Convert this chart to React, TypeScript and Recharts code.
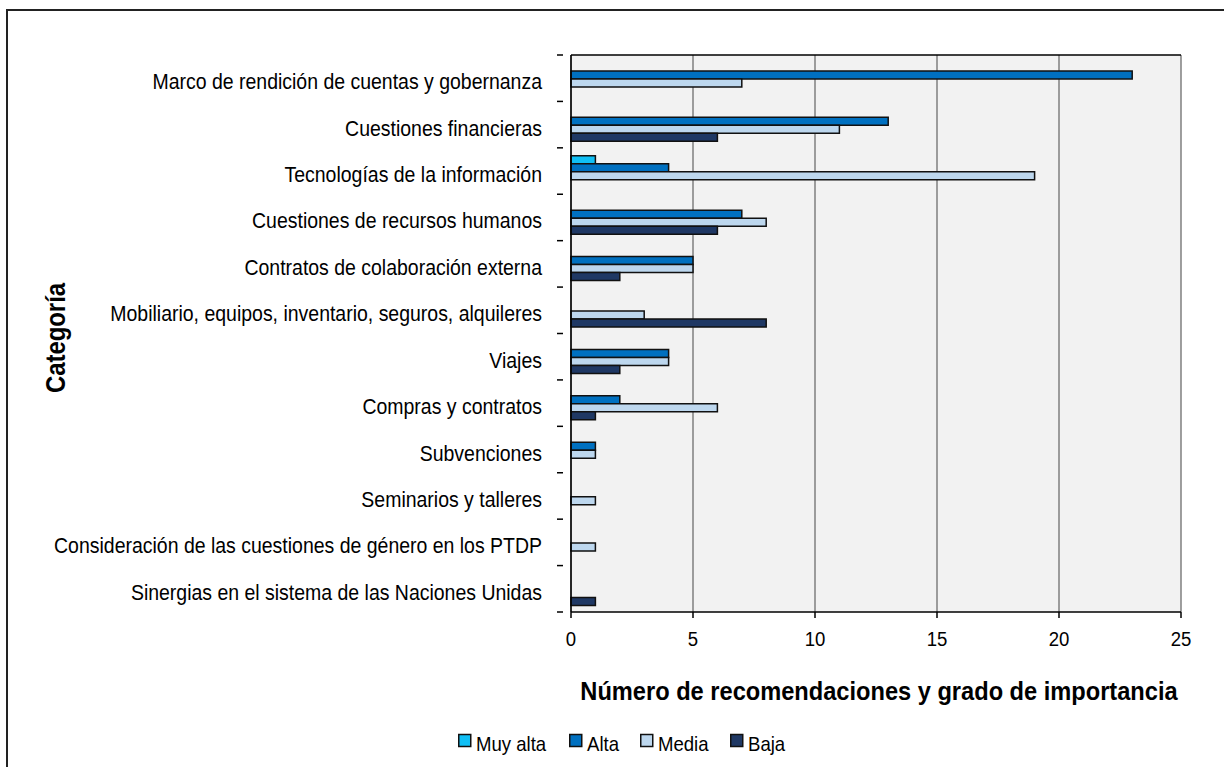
import React from 'react';
import { BarChart, Bar, XAxis, YAxis, CartesianGrid } from 'recharts';

const categories = [
  'Marco de rendición de cuentas y gobernanza',
  'Cuestiones financieras',
  'Tecnologías de la información',
  'Cuestiones de recursos humanos',
  'Contratos de colaboración externa',
  'Mobiliario, equipos, inventario, seguros, alquileres',
  'Viajes',
  'Compras y contratos',
  'Subvenciones',
  'Seminarios y talleres',
  'Consideración de las cuestiones de género en los PTDP',
  'Sinergias en el sistema de las Naciones Unidas',
];

const muyAlta = [0, 0, 1, 0, 0, 0, 0, 0, 0, 0, 0, 0];
const alta = [23, 13, 4, 7, 5, 0, 4, 2, 1, 0, 0, 0];
const media = [7, 11, 19, 8, 5, 3, 4, 6, 1, 1, 1, 0];
const baja = [0, 6, 0, 6, 2, 8, 2, 1, 0, 0, 0, 1];

const xTicks = [0, 5, 10, 15, 20, 25];

const SERIES = [
  { key: 'muyAlta', label: 'Muy alta', color: '#10BFF5' },
  { key: 'alta', label: 'Alta', color: '#0070C0' },
  { key: 'media', label: 'Media', color: '#BDD7EE' },
  { key: 'baja', label: 'Baja', color: '#1F3864' },
];

// no Arial Narrow here, so squeeze Liberation Sans horizontally
const FONT = '"Liberation Sans", Arial, sans-serif';
const SQUEEZE = 0.885;

const W = 1224;
const H = 767;
const PLOT_TOP = 55;
const PLOT_BOTTOM = 612;
const PLOT_LEFT = 571;
const PLOT_RIGHT = 1181;
const BAND = (PLOT_BOTTOM - PLOT_TOP) / categories.length;

const data = categories.map((name, i) => ({
  name,
  muyAlta: muyAlta[i],
  alta: alta[i],
  media: media[i],
  baja: baja[i],
}));

function NarrowText({ x, y, anchor, size, bold, rotate, children }: any) {
  const t = `translate(${x},${y})${rotate ? ` rotate(${rotate})` : ''} scale(${SQUEEZE},1)`;
  return (
    <text
      transform={t}
      x={0}
      y={0}
      textAnchor={anchor}
      fontSize={size}
      fontWeight={bold ? 'bold' : 'normal'}
      fill="#000"
      fontFamily={FONT}
    >
      {children}
    </text>
  );
}

function CategoryTick(props: any) {
  const { x, y, payload, index } = props;
  return (
    <g>
      <line x1={x - 6} x2={x} y1={y - BAND / 2} y2={y - BAND / 2} stroke="#000" strokeWidth={1.5} />
      {index === categories.length - 1 && (
        <line x1={x - 6} x2={x} y1={y + BAND / 2} y2={y + BAND / 2} stroke="#000" strokeWidth={1.5} />
      )}
      <NarrowText x={x - 21} y={y + 11} anchor="end" size={22}>
        {payload.value}
      </NarrowText>
    </g>
  );
}

function ValueTick(props: any) {
  const { x, payload } = props;
  return (
    <NarrowText x={x} y={646} anchor="middle" size={21}>
      {payload.value}
    </NarrowText>
  );
}

export default function App() {
  return (
    <div style={{ position: 'absolute', left: 0, top: 0, width: W, height: H, background: '#fff', overflow: 'hidden' }}>
      <div
        style={{
          position: 'absolute',
          left: 6,
          top: 9,
          width: 1400,
          height: 900,
          borderLeft: '2px solid #222',
          borderTop: '2px solid #222',
        }}
      />
      <div style={{ position: 'absolute', left: 0, top: 0 }}>
        <BarChart
          width={W}
          height={H}
          data={data}
          layout="vertical"
          margin={{ top: PLOT_TOP, right: W - PLOT_RIGHT, left: 0, bottom: 95 }}
          barCategoryGap="17%"
          barGap={0}
        >
          <CartesianGrid horizontal={false} vertical stroke="#7f7f7f" strokeWidth={1.5} fill="#F2F2F2" />
          <CartesianGrid
            vertical={false}
            horizontal
            horizontalPoints={[PLOT_TOP]}
            stroke="#000"
            strokeWidth={1.5}
          />
          <XAxis
            type="number"
            domain={[0, 25]}
            ticks={xTicks}
            height={60}
            tickSize={6}
            tickMargin={13}
            axisLine={{ stroke: '#000', strokeWidth: 1.5 }}
            tickLine={{ stroke: '#000', strokeWidth: 1.5 }}
            tick={<ValueTick />}
            label={{
              content: (p: any) => {
                const vb = p.viewBox;
                return (
                  <NarrowText x={vb.x + vb.width / 2 + 3} y={700} anchor="middle" size={26.7} bold>
                    Número de recomendaciones y grado de importancia
                  </NarrowText>
                );
              },
            }}
          />
          <YAxis
            type="category"
            dataKey="name"
            width={PLOT_LEFT}
            interval={0}
            tickLine={false}
            axisLine={{ stroke: '#000', strokeWidth: 1.5 }}
            tick={<CategoryTick />}
            label={{
              content: () => (
                <NarrowText x={65} y={338} rotate={-90} anchor="middle" size={27}>
                  <tspan fontWeight="bold">Categoría</tspan>
                </NarrowText>
              ),
            }}
          />
          {SERIES.map(s => (
            <Bar
              key={s.key}
              dataKey={s.key}
              name={s.label}
              fill={s.color}
              stroke="#111"
              strokeWidth={1.5}
              isAnimationActive={false}
            />
          ))}
        </BarChart>
      </div>
      <svg style={{ position: 'absolute', left: 0, top: 720 }} width={W} height={47}>
        {SERIES.map((s, i) => {
          const left = [458, 569, 640, 730][i];
          return (
            <g key={s.key}>
              <rect x={left + 0.75} y={14.5} width={12} height={12} fill={s.color} stroke="#111" strokeWidth={1.5} />
              <NarrowText x={left + 18} y={31} anchor="start" size={21}>
                {s.label}
              </NarrowText>
            </g>
          );
        })}
      </svg>
    </div>
  );
}
